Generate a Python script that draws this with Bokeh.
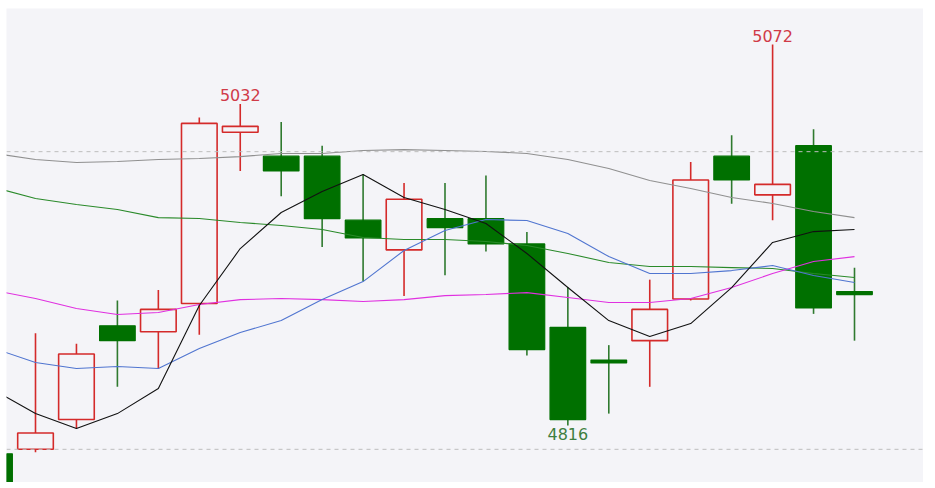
from bokeh.plotting import figure
from bokeh.models import ColumnDataSource, Span
from bokeh.core.properties import value
from bokeh.embed import file_html
from bokeh.resources import INLINE

# ---- data (index 0 is the partly visible candle at the left edge) ----
idx = list(range(22))
opens  = [4797, 4800, 4820, 4883, 4879, 4898, 5013, 4997, 4997, 4954, 4934,
          4955, 4955, 4938, 4882, 4860, 4873, 4901, 4997, 4971, 5004, 4906]
closes = [4765, 4811, 4864, 4873, 4894, 5019, 5017, 4987, 4955, 4942, 4968,
          4949, 4938, 4867, 4820, 4858, 4894, 4981, 4981, 4978, 4895, 4904]
highs  = [4800, 4878, 4871, 4900, 4907, 5023, 5032, 5020, 5004, 4985, 4979,
          4979, 4984, 4946, 4909, 4870, 4914, 4993, 5011, 5072, 5015, 4922]
lows   = [4750, 4798, 4814, 4842, 4854, 4877, 4987, 4970, 4936, 4913, 4903,
          4917, 4933, 4863, 4816, 4824, 4842, 4900, 4965, 4954, 4891, 4873]

ma_black   = [4839.5, 4824.0, 4814.0, 4824.0, 4840.8, 4896.6, 4934.9, 4959.1, 4973.2, 4984.6, 4969.2,
              4961.1, 4951.7, 4931.6, 4908.7, 4886.5, 4875.8, 4884.5, 4908.7, 4939.0, 4946.3, 4947.7]
ma_blue    = [4867.7, 4858.3, 4854.3, 4855.6, 4854.3, 4867.7, 4878.5, 4886.5, 4900.6, 4912.7, 4933.6,
              4947.0, 4954.4, 4953.7, 4945.0, 4929.5, 4918.1, 4918.1, 4920.1, 4923.5, 4916.8, 4912.1]
ma_green   = [4975.9, 4968.5, 4964.5, 4961.1, 4955.7, 4955.1, 4952.4, 4950.4, 4947.7, 4942.3, 4941.0,
              4941.0, 4939.6, 4936.9, 4931.6, 4925.5, 4922.8, 4922.8, 4922.1, 4921.5, 4918.1, 4915.4]
ma_magenta = [4906.7, 4901.3, 4894.6, 4890.6, 4891.9, 4897.3, 4900.6, 4901.3, 4900.6, 4899.3, 4900.6,
              4903.3, 4904.0, 4905.3, 4902.0, 4898.6, 4898.6, 4901.3, 4908.7, 4918.1, 4926.2, 4929.5]
ma_gray    = [4998.8, 4994.7, 4992.7, 4993.4, 4994.7, 4995.4, 4996.7, 4998.8, 4998.8, 5000.8, 5001.4,
              5000.8, 5000.1, 4998.8, 4994.7, 4988.7, 4980.6, 4975.2, 4969.2, 4965.2, 4959.8, 4955.7]

grid_levels = [5000, 4800]

# extreme labels
label_idx = [6, 19, 14]
label_price = [5032, 5072, 4816]
label_text = ["5032", "5072", "4816"]
label_is_high = [True, True, False]

RED = "#d42a2a"
GREEN = "#007000"
GREEN_WICK = "#2f7a2f"
BG = "#f4f4f8"

p = figure(width=923, height=482, output_backend="svg", toolbar_location=None,
           x_range=(0.2918, 22.685), y_range=(4777.7, 5096.2),
           min_border=0, min_border_left=6, min_border_right=0,
           min_border_top=8, min_border_bottom=0)
p.xaxis.visible = False
p.yaxis.visible = False
p.xgrid.visible = False
p.ygrid.visible = False
p.outline_line_color = None
p.background_fill_color = BG
p.border_fill_color = "white"

for lv in grid_levels:
    p.add_layout(Span(location=lv, dimension="width", line_color="#bdbdbd",
                      line_dash="4 4", line_width=1))

up = [c >= o for o, c in zip(opens, closes)]
src_up = ColumnDataSource(dict(
    x=[i for i, u in zip(idx, up) if u],
    top=[c for c, u in zip(closes, up) if u],
    bottom=[o for o, u in zip(opens, up) if u],
    hi=[h for h, u in zip(highs, up) if u],
    lo=[l for l, u in zip(lows, up) if u]))
src_dn = ColumnDataSource(dict(
    x=[i for i, u in zip(idx, up) if not u],
    top=[o for o, u in zip(opens, up) if not u],
    bottom=[c for c, u in zip(closes, up) if not u],
    hi=[h for h, u in zip(highs, up) if not u],
    lo=[l for l, u in zip(lows, up) if not u]))

W = 0.87
p.segment(x0="x", y0="lo", x1="x", y1="hi", source=src_up, line_color=RED, line_width=1.6)
p.segment(x0="x", y0="lo", x1="x", y1="hi", source=src_dn, line_color=GREEN_WICK, line_width=1.6)
p.vbar(x="x", top="top", bottom="bottom", width=W, source=src_up,
       fill_color=BG, line_color=RED, line_width=1.6)
p.vbar(x="x", top="top", bottom="bottom", width=W, source=src_dn,
       fill_color=GREEN, line_color=GREEN, line_width=1.2)

p.line(idx, ma_gray, line_color="#909090", line_width=1.1)
p.line(idx, ma_green, line_color="#2a8a2a", line_width=1.1)
p.line(idx, ma_magenta, line_color="#e030e0", line_width=1.1)
p.line(idx, ma_blue, line_color="#5075d0", line_width=1.1)
p.line(idx, ma_black, line_color="#111111", line_width=1.1)

for i, pr, t, hi in zip(label_idx, label_price, label_text, label_is_high):
    p.text(x=[i], y=[pr], text=[t], text_font=value("DejaVu Sans"),
           text_font_size="16px", text_align="center",
           text_baseline="bottom" if hi else "top",
           y_offset=-3 if hi else 2,
           text_color="#d03a48" if hi else "#3f7f3f")

open("out.html", "w").write(file_html(p, INLINE))
